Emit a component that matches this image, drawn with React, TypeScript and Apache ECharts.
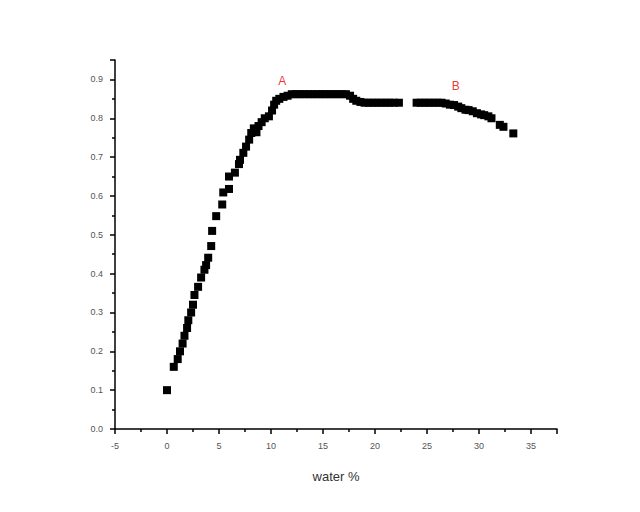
import React, { useEffect, useRef } from "react";
import * as echarts from "echarts";

const waterX: number[] = [
  0.0, 0.65, 1.03, 1.25, 1.5, 1.68, 1.93, 2.05, 2.32, 2.5, 2.64, 2.99, 3.28, 3.6, 3.76, 3.96,
  4.25, 4.34, 4.73, 5.31, 5.41, 5.96, 5.96, 6.53, 6.92, 7.02, 7.34, 7.6, 7.9, 8.1, 8.35, 8.6,
  8.8, 9.1, 9.4, 9.8, 10.1, 10.3, 10.5, 10.8, 11.2, 11.6,
  12.0, 12.4, 12.8, 13.2, 13.6, 14.0, 14.4, 14.8, 15.2, 15.6, 16.0, 16.4, 16.8, 17.2,
  17.6, 17.9, 18.2, 18.6,
  19.0, 19.4, 19.8, 20.2, 20.6, 21.0, 21.4, 21.8, 22.3,
  24.0, 24.4, 24.8, 25.2, 25.6, 26.0, 26.4,
  26.8, 27.2, 27.6, 28.0, 28.3, 28.7, 29.0, 29.4, 29.8, 30.2, 30.5, 30.9, 31.2, 32.0, 32.35, 33.3,
];
const absorbance: number[] = [
  0.1, 0.16, 0.18, 0.2, 0.22, 0.24, 0.26, 0.28, 0.3, 0.32, 0.345, 0.366, 0.39, 0.41, 0.422, 0.441,
  0.471, 0.51, 0.548, 0.578, 0.609, 0.618, 0.65, 0.66, 0.682, 0.693, 0.711, 0.727, 0.745, 0.762, 0.774, 0.764,
  0.78, 0.79, 0.8, 0.805, 0.82, 0.835, 0.845, 0.85, 0.855, 0.858,
  0.862, 0.862, 0.862, 0.862, 0.862, 0.862, 0.862, 0.862, 0.862, 0.862, 0.862, 0.862, 0.862, 0.862,
  0.858, 0.85, 0.845, 0.842,
  0.84, 0.84, 0.84, 0.84, 0.84, 0.84, 0.84, 0.84, 0.84,
  0.84, 0.84, 0.84, 0.84, 0.84, 0.84, 0.84,
  0.838, 0.835, 0.834, 0.83, 0.826, 0.822, 0.821, 0.818, 0.813, 0.81, 0.808, 0.805, 0.8, 0.783, 0.778, 0.761,
];

const annotationNames: string[] = ["A", "B"];
const annotationX: number[] = [11.07, 27.77];
const annotationY: number[] = [0.896, 0.883];

export default function App() {
  const ref = useRef<HTMLDivElement>(null);
  useEffect(() => {
    if (!ref.current) return;
    const chart = echarts.init(ref.current, undefined, { renderer: "svg" });
    const fontFamily = "'Liberation Sans', Arial, sans-serif";
    chart.setOption({
      animation: false,
      backgroundColor: "#ffffff",
      grid: { left: 115, right: 83, top: 60, bottom: 83 },
      xAxis: {
        type: "value",
        min: -5,
        max: 37.5,
        interval: 5,
        name: "water %",
        nameLocation: "middle",
        nameGap: 41,
        nameTextStyle: { color: "#333", fontSize: 13, fontFamily },
        axisLine: { show: true, onZero: false, lineStyle: { color: "#000", width: 1.5 } },
        axisTick: { show: true, inside: false, length: 5, lineStyle: { color: "#000", width: 1.5 } },
        minorTick: { show: true, splitNumber: 2, length: 3, lineStyle: { color: "#000", width: 1.5 } },
        splitLine: { show: false },
        axisLabel: {
          showMaxLabel: false,
          margin: 12,
          color: "#555",
          fontSize: 9,
          fontFamily,
          formatter: (v: number) => String(v),
        },
      },
      yAxis: {
        type: "value",
        min: 0,
        max: 0.95,
        interval: 0.1,
        axisLine: { show: true, onZero: false, lineStyle: { color: "#000", width: 1.5 } },
        axisTick: { show: true, inside: false, length: 5, lineStyle: { color: "#000", width: 1.5 } },
        minorTick: { show: true, splitNumber: 2, length: 3, lineStyle: { color: "#000", width: 1.5 } },
        splitLine: { show: false },
        axisLabel: {
          showMaxLabel: false,
          margin: 12,
          color: "#555",
          fontSize: 9,
          fontFamily,
          formatter: (v: number) => v.toFixed(1),
        },
      },
      series: [
        {
          type: "scatter",
          symbol: "rect",
          symbolSize: 8,
          itemStyle: { color: "#000", opacity: 1 },
          data: waterX.map((x, i) => [x, absorbance[i]]),
        },
        {
          type: "scatter",
          symbolSize: 1,
          itemStyle: { color: "rgba(0,0,0,0)" },
          label: {
            show: true,
            position: "inside",
            color: "#e60000",
            fontSize: 12,
            fontFamily,
            formatter: (p: any) => p.name,
          },
          data: annotationNames.map((n, i) => ({ name: n, value: [annotationX[i], annotationY[i]] })),
        },
      ],
    });
    return () => chart.dispose();
  }, []);
  return (
    <div
      ref={ref}
      style={{ position: "fixed", left: 0, top: 0, width: 640, height: 512 }}
    />
  );
}
